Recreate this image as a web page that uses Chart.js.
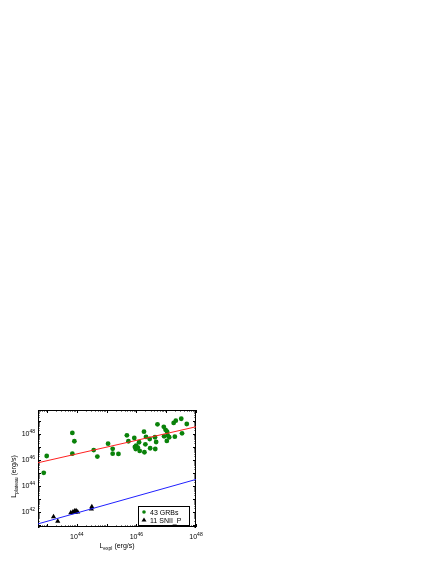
<!DOCTYPE html>
<html>
<head>
<meta charset="utf-8">
<script src="https://cdn.jsdelivr.net/npm/chart.js@4.4.1/dist/chart.umd.min.js"></script>
<style>
  html, body { margin: 0; padding: 0; background: #fff; }
  #wrap { width: 436px; height: 564px; position: relative; }
</style>
</head>
<body>
<div id="wrap"><canvas id="chart"></canvas></div>
<script>
// GRB sample (erg/s)
const grbX = [7.8e42, 9.8e42, 7.1e43, 8.3e43, 7.1e43, 3.7e44, 4.9e44, 1.12e45, 1.6e45, 1.6e45,
  2.5e45, 4.8e45, 5.4e45, 8.5e45, 9.8e45, 9.5e45, 1.23e46, 1.8e46, 1.29e46, 2.1e46,
  1.86e46, 2.8e46, 2.9e46, 4.2e46, 4.6e46, 4.3e46, 5.1e46, 8.3e46, 9.5e46, 1.07e47,
  8.5e46, 1.26e47, 1.05e47, 1.95e47, 1.78e47, 2.1e47, 3.2e47, 4.9e47, 3.4e47,
  8.9e45, 1.12e46, 1.12e47, 2.0e46]
const grbY = [1.0e45, 2.0e46, 1.2e48, 2.75e47, 3.0e46, 5.75e46, 1.8e46, 1.8e47, 7.2e46, 3.0e46,
  2.9e46, 7.9e47, 2.75e47, 4.9e47, 1.26e47, 6.9e46, 2.3e47, 1.5e48, 4.9e46, 5.9e47,
  3.9e46, 4.1e47, 7.9e46, 5.6e47, 2.4e47, 6.9e46, 5.6e48, 3.6e48, 2.1e48, 1.5e48,
  6.6e47, 5.6e47, 2.9e47, 6.2e47, 7.1e48, 1.07e49, 1.5e49, 5.9e48, 1.12e48,
  1.0e47, 8.9e46, 7.9e47, 1.6e47]

// SNII_P sample (erg/s)
const snX = [1.66e43, 2.3e43, 6.3e43, 7.4e43, 8.5e43, 9.5e43, 1.07e44, 8.9e43, 8.1e43, 3.1e44, 3.2e44]
const snY = [4.1e41, 1.8e41, 8.3e41, 9.5e41, 1.12e42, 1.2e42, 9.5e41, 8.9e41, 8.9e41, 1.6e42, 2.45e42]

// fitted relations, evaluated at the axis ends
const fitX = [5e42, 1e48]
const grbFitY = [6.0e45, 3.6e48]
const snFitY = [1.15e41, 3.1e44]

// axes
const xRange = [5e42, 1e48]
const yRange = [6.6e40, 7.1e49]
const xTickPowers = [44, 46, 48]
const yTickPowers = [42, 44, 46, 48]
const legendLabels = ['43 GRBs', '11 SNII_P']

const toPts = (xs, ys) => xs.map((x, i) => ({ x: x, y: ys[i] }))

const FONT = '"Liberation Sans", Arial, sans-serif'

// frame, inward ticks, labels, titles and legend
const framePlugin = {
  id: 'frame',
  beforeDatasetsDraw(chart) {
    const { ctx, chartArea: a, scales: { x, y } } = chart
    ctx.save()
    ctx.strokeStyle = '#000'
    ctx.lineWidth = 1
    ctx.strokeRect(a.left + 0.5, a.top + 0.5, a.right - a.left - 1, a.bottom - a.top - 1)
    ctx.beginPath()
    for (let p = 42; p <= 48; p++) {
      for (let m = 1; m <= 9; m++) {
        const v = m * Math.pow(10, p)
        if (v < xRange[0] || v > xRange[1]) continue
        const px = Math.round(x.getPixelForValue(v)) + 0.5
        const len = m === 1 ? 3 : 1.5
        ctx.moveTo(px, a.bottom); ctx.lineTo(px, a.bottom - len)
        ctx.moveTo(px, a.top); ctx.lineTo(px, a.top + len)
      }
    }
    for (let p = 40; p <= 49; p++) {
      for (let m = 1; m <= 9; m++) {
        const v = m * Math.pow(10, p)
        if (v < yRange[0] || v > yRange[1]) continue
        const py = Math.round(y.getPixelForValue(v)) + 0.5
        const len = m === 1 ? 3 : 1.5
        ctx.moveTo(a.left, py); ctx.lineTo(a.left + len, py)
        ctx.moveTo(a.right, py); ctx.lineTo(a.right - len, py)
      }
    }
    ctx.stroke()
    ctx.restore()
  },
  afterDraw(chart) {
    const { ctx, chartArea: a, scales: { x, y } } = chart
    ctx.save()
    ctx.fillStyle = '#000'
    ctx.textBaseline = 'alphabetic'

    // y tick labels
    yTickPowers.forEach(p => {
      const py = y.getPixelForValue(Math.pow(10, p))
      ctx.font = '5px ' + FONT
      const ew = ctx.measureText(String(p)).width
      ctx.font = '7px ' + FONT
      ctx.textAlign = 'right'
      ctx.fillText('10', a.left - 3 - ew, py + 2.5)
      ctx.font = '5px ' + FONT
      ctx.textAlign = 'left'
      ctx.fillText(String(p), a.left - 3 - ew, py - 1)
    })

    // x tick labels
    xTickPowers.forEach(p => {
      const px = x.getPixelForValue(Math.pow(10, p))
      ctx.font = '7px ' + FONT
      const bw = ctx.measureText('10').width
      ctx.font = '5px ' + FONT
      const ew = ctx.measureText(String(p)).width
      const start = px - (bw + ew) / 2
      ctx.font = '7px ' + FONT
      ctx.textAlign = 'left'
      ctx.fillText('10', start, a.bottom + 12)
      ctx.font = '5px ' + FONT
      ctx.fillText(String(p), start + bw, a.bottom + 8.5)
    })

    // x title: L_expl (erg/s)
    const drawSub = (main, sub, rest, cx, cy) => {
      ctx.font = '7px ' + FONT
      const w1 = ctx.measureText(main).width
      const w3 = ctx.measureText(rest).width
      ctx.font = '5px ' + FONT
      const w2 = ctx.measureText(sub).width
      let s = cx - (w1 + w2 + w3) / 2
      ctx.textAlign = 'left'
      ctx.font = '7px ' + FONT
      ctx.fillText(main, s, cy)
      ctx.font = '5px ' + FONT
      ctx.fillText(sub, s + w1, cy + 1.5)
      ctx.font = '7px ' + FONT
      ctx.fillText(rest, s + w1 + w2, cy)
    }
    drawSub('L', 'expl', ' (erg/s)', (a.left + a.right) / 2, a.bottom + 21)

    ctx.save()
    ctx.translate(a.left - 22, (a.top + a.bottom) / 2 + 8)
    ctx.rotate(-Math.PI / 2)
    drawSub('L', 'plateau', ' (erg/s)', 0, 0)
    ctx.restore()

    // legend box
    const lx = 138, ly = 506, lw = 51, lh = 19
    ctx.fillStyle = '#fff'
    ctx.fillRect(lx, ly, lw, lh)
    ctx.strokeStyle = '#000'
    ctx.lineWidth = 1
    ctx.strokeRect(lx + 0.5, ly + 0.5, lw, lh)
    ctx.fillStyle = '#0a820a'
    ctx.beginPath()
    ctx.arc(lx + 6, ly + 6, 1.8, 0, Math.PI * 2)
    ctx.fill()
    ctx.fillStyle = '#000'
    ctx.beginPath()
    ctx.moveTo(lx + 6, ly + 11.5)
    ctx.lineTo(lx + 8.5, ly + 15.5)
    ctx.lineTo(lx + 3.5, ly + 15.5)
    ctx.closePath()
    ctx.fill()
    ctx.font = '7px ' + FONT
    ctx.textAlign = 'left'
    ctx.fillText(legendLabels[0], lx + 12, ly + 8.5)
    ctx.fillText(legendLabels[1], lx + 12, ly + 16.5)
    ctx.restore()
  }
}

new Chart(document.getElementById('chart'), {
  type: 'scatter',
  data: {
    datasets: [
      {
        label: 'GRB fit',
        type: 'line',
        data: toPts(fitX, grbFitY),
        borderColor: '#ff2020',
        borderWidth: 1,
        pointRadius: 0,
        fill: false
      },
      {
        label: 'SNII_P fit',
        type: 'line',
        data: toPts(fitX, snFitY),
        borderColor: '#2020ff',
        borderWidth: 1,
        pointRadius: 0,
        fill: false
      },
      {
        label: legendLabels[0],
        data: toPts(grbX, grbY),
        backgroundColor: '#0a820a',
        borderColor: '#0a820a',
        borderWidth: 0,
        pointRadius: 2.4
      },
      {
        label: legendLabels[1],
        data: toPts(snX, snY),
        pointStyle: 'triangle',
        backgroundColor: '#000',
        borderColor: '#000',
        borderWidth: 0,
        pointRadius: 3
      }
    ]
  },
  options: {
    responsive: true,
    maintainAspectRatio: false,
    animation: false,
    layout: { padding: { left: 38, right: 240, top: 410, bottom: 37 } },
    plugins: {
      legend: { display: false },
      tooltip: { enabled: false }
    },
    scales: {
      x: { type: 'logarithmic', min: xRange[0], max: xRange[1], display: false },
      y: { type: 'logarithmic', min: yRange[0], max: yRange[1], display: false }
    }
  },
  plugins: [framePlugin]
})
</script>
</body>
</html>
